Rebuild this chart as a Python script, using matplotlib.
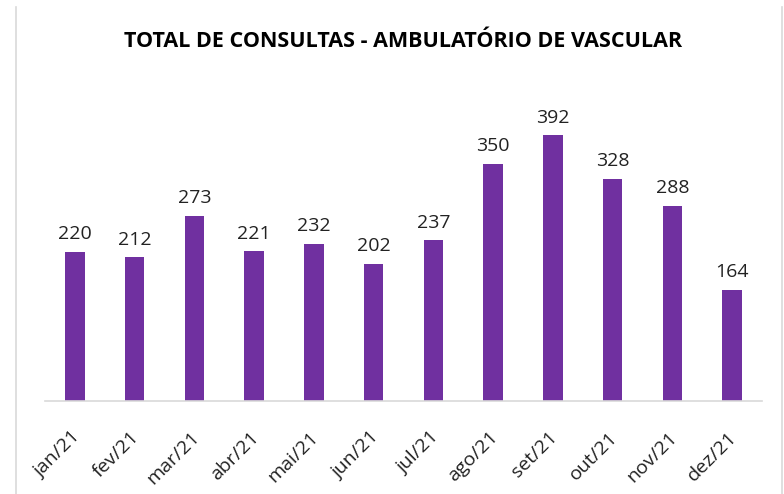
import matplotlib.pyplot as plt
from matplotlib.lines import Line2D
from matplotlib.transforms import ScaledTranslation

# --- Data ---
months = ['jan/21', 'fev/21', 'mar/21', 'abr/21', 'mai/21', 'jun/21',
          'jul/21', 'ago/21', 'set/21', 'out/21', 'nov/21', 'dez/21']
consultas = [220, 212, 273, 221, 232, 202, 237, 350, 392, 328, 288, 164]

TITLE = 'TOTAL DE CONSULTAS - AMBULATÓRIO DE VASCULAR'
BAR_COLOR = '#7030A0'
W, H = 784, 494

plt.rcParams['font.family'] = ['Open Sans', 'DejaVu Sans']

fig = plt.figure(figsize=(W / 100, H / 100), dpi=100)
ax = fig.add_axes([45 / W, 1 - 400.5 / H, 717 / W, (400.5 - 96) / H])

x = range(len(months))
ax.bar(x, consultas, width=0.33, color=BAR_COLOR, zorder=2)

for xi, v in zip(x, consultas):
    ax.annotate(str(v), (xi, v), xytext=(0, 6), textcoords='offset points',
                ha='center', va='bottom', fontsize=14, color='#222222')

ax.set_xlim(-0.5, len(months) - 0.5)
ax.set_ylim(0, 450)
ax.set_xticks(list(x))
ax.set_xticklabels(months, rotation=45, ha='right', va='center',
                   rotation_mode='anchor', fontsize=14, color='#222222')
ax.tick_params(axis='x', length=0, pad=0)
# shift labels so their right end sits just below each bar
shift = ScaledTranslation(2 / 100, -34 / 100, fig.dpi_scale_trans)
for lbl in ax.get_xticklabels():
    lbl.set_transform(lbl.get_transform() + shift)
ax.set_yticks([])
for s in ['top', 'right', 'left']:
    ax.spines[s].set_visible(False)
ax.spines['bottom'].set_color('#d9d9d9')
ax.spines['bottom'].set_linewidth(1.2)

fig.text(403 / W, 1 - 47 / H, TITLE, ha='center', va='baseline', fontsize=15.5,
         fontweight='bold', color='black')

# light side borders of the chart frame
for bx in (15.5, 782):
    fig.add_artist(Line2D([bx / W, bx / W], [0, 1 - 7 / H], transform=fig.transFigure,
                          color='#d9d9d9', linewidth=1.2))

fig.savefig('out.png', dpi=100)
